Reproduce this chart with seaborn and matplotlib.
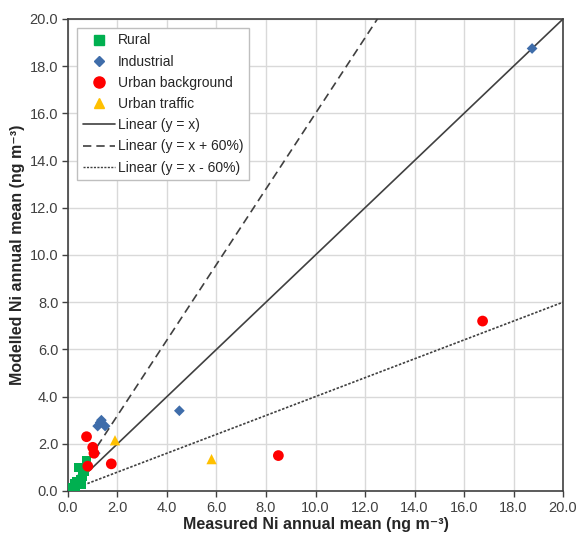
import numpy as np
import pandas as pd
import matplotlib
matplotlib.use("Agg")
import matplotlib.pyplot as plt
from matplotlib.lines import Line2D
from matplotlib.ticker import MultipleLocator, FormatStrFormatter
import seaborn as sns

# Measured vs modelled Ni annual means (ng m-3)
rural_x = [0.05, 0.1, 0.2, 0.25, 0.3, 0.35, 0.45, 0.5, 0.55, 0.6, 0.45, 0.75, 0.65]
rural_y = [0.05, 0.15, 0.1, 0.3, 0.2, 0.4, 0.35, 0.5, 0.3, 0.6, 1.0, 1.3, 0.85]
industrial_x = [18.75, 4.5, 1.3, 1.2, 1.5, 1.35, 1.1]
industrial_y = [18.75, 3.4, 2.9, 2.75, 2.75, 3.0, 1.6]
urban_bg_x = [16.75, 8.5, 0.75, 1.0, 1.05, 0.8, 1.75]
urban_bg_y = [7.2, 1.5, 2.3, 1.85, 1.6, 1.05, 1.15]
urban_tr_x = [1.9, 5.8]
urban_tr_y = [2.15, 1.35]

categories = ["Rural", "Industrial", "Urban background", "Urban traffic"]
colors = ["#00B050", "#3F6DAA", "#FF0000", "#FFC000"]
markers = ["s", "D", "o", "^"]
sizes = [45, 30, 60, 55]

line_x = [0, 20]

df = pd.concat([
    pd.DataFrame({"x": rural_x, "y": rural_y, "site": "Rural"}),
    pd.DataFrame({"x": industrial_x, "y": industrial_y, "site": "Industrial"}),
    pd.DataFrame({"x": urban_bg_x, "y": urban_bg_y, "site": "Urban background"}),
    pd.DataFrame({"x": urban_tr_x, "y": urban_tr_y, "site": "Urban traffic"}),
])

sns.set_style("white")
plt.rcParams["font.family"] = ["Liberation Sans", "DejaVu Sans"]

fig = plt.figure(figsize=(5.78, 5.38), dpi=100)
ax = fig.add_axes([0.1176, 0.0874, 0.8565, 0.8773])

ax.grid(True, color="#D9D9D9", linewidth=1.0)
ax.set_axisbelow(True)

# reference lines
lx = np.array(line_x, dtype=float)
sns.lineplot(x=lx, y=lx, color="#404040", linewidth=1.2, ax=ax, zorder=2)
sns.lineplot(x=lx, y=lx * 1.6, color="#404040", linewidth=1.2, linestyle=(0, (5, 3)), ax=ax, zorder=2)
sns.lineplot(x=lx, y=lx * 0.4, color="#404040", linewidth=1.2, linestyle=(0, (1.5, 1)), ax=ax, zorder=2)

for cat, col, mk, sz in zip(categories, colors, markers, sizes):
    sub = df[df["site"] == cat]
    sns.scatterplot(data=sub, x="x", y="y", color=col, marker=mk, s=sz,
                    edgecolor="none", ax=ax, zorder=3, legend=False)

ax.set_xlim(0, 20)
ax.set_ylim(0, 20)
ax.xaxis.set_major_locator(MultipleLocator(2))
ax.yaxis.set_major_locator(MultipleLocator(2))
ax.xaxis.set_major_formatter(FormatStrFormatter("%.1f"))
ax.yaxis.set_major_formatter(FormatStrFormatter("%.1f"))
ax.tick_params(axis="both", which="major", direction="out", length=4, width=1,
               color="#404040", labelsize=10.5, labelcolor="#404040", bottom=True, left=True,
               pad=3)
for sp in ax.spines.values():
    sp.set_color("#404040")
    sp.set_linewidth(1.2)

ax.set_xlabel("Measured Ni annual mean (ng m\u207b\u00b3)", fontsize=11.5, fontweight="bold", labelpad=2)
ax.set_ylabel("Modelled Ni annual mean (ng m\u207b\u00b3)", fontsize=11.5, fontweight="bold", labelpad=3)

handles = [Line2D([], [], linestyle="none", marker=mk, color=col, markersize=ms)
           for col, mk, ms in zip(colors, markers, [7, 5.5, 8, 7.5])]
handles += [
    Line2D([], [], color="#404040", linewidth=1.2),
    Line2D([], [], color="#404040", linewidth=1.2, linestyle=(0, (5, 3))),
    Line2D([], [], color="#404040", linewidth=1.0, linestyle=(0, (1.5, 1))),
]
labels = categories + ["Linear (y = x)", "Linear (y = x + 60%)", "Linear (y = x - 60%)"]
leg = ax.legend(handles, labels, loc="upper left", bbox_to_anchor=(0.005, 0.996),
                fontsize=10, frameon=True, fancybox=False, framealpha=1,
                edgecolor="#BFBFBF", handlelength=2.3, handletextpad=0.2,
                labelspacing=0.52, borderpad=0.4)
for t in leg.get_texts():
    t.set_color("#262626")

fig.savefig("out.png", dpi=100)
